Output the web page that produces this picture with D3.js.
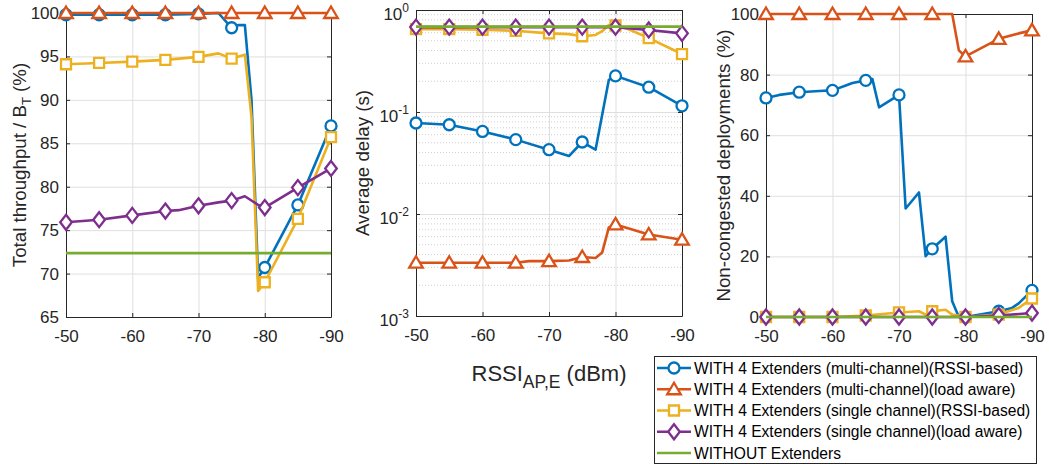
<!DOCTYPE html>
<html><head><meta charset="utf-8">
<script src="https://cdn.jsdelivr.net/npm/d3@7"></script>
<style>body{margin:0;background:#fff} svg{display:block;font-family:"Liberation Sans",Arial,Helvetica,sans-serif}</style>
</head><body><svg id="c" width="1049" height="465"></svg>
<script>
// ---------- data ----------
const seriesNames = [
  "WITH 4 Extenders (multi-channel)(RSSI-based)",
  "WITH 4 Extenders (multi-channel)(load aware)",
  "WITH 4 Extenders (single channel)(RSSI-based)",
  "WITH 4 Extenders (single channel)(load aware)",
  "WITHOUT Extenders"
];
const seriesColors = ["#0072BD","#D95319","#EDB120","#7E2F8E","#77AC30"];
const seriesMarkers = ["circle","triangle","square","diamond","none"];
const xTickValues = [-50,-60,-70,-80,-90];
const markerX = [-50,-55,-60,-65,-70,-75,-80,-85,-90];

// Panel 1: total throughput / B_T (%)
const tpTicks = [65,70,75,80,85,90,95,100];
const tpMcRssiX = [-50,-55,-60,-65,-70,-73,-75,-76,-77,-78,-79,-80,-85,-90];
const tpMcRssiY = [99.8,99.8,99.8,99.8,99.9,100,98.3,98.6,98.6,90,69.5,70.7,77.9,87.0];
const tpMcLoadX = [-50,-55,-60,-65,-70,-75,-80,-85,-90];
const tpMcLoadY = [100,100,100,100,100,100,100,100,100];
const tpScRssiX = [-50,-55,-60,-65,-70,-73,-75,-77,-78,-79,-80,-85,-90];
const tpScRssiY = [94.1,94.25,94.4,94.6,94.95,95.35,94.75,95.2,88,68.0,69.0,76.3,85.7];
const tpScLoadX = [-50,-55,-60,-65,-67,-70,-73,-75,-77,-79,-80,-85,-90];
const tpScLoadY = [75.9,76.2,76.7,77.2,77.3,77.8,78.2,78.4,78.9,77.9,77.6,79.9,82.1];
const tpNoneX = [-50,-90];
const tpNoneY = [72.35,72.35];

// Panel 2: average delay (s)
const delayTicks = [0.001,0.01,0.1,1];
const dlMcRssiX = [-50,-55,-60,-65,-70,-73,-75,-77,-79,-80,-85,-90];
const dlMcRssiY = [0.078,0.075,0.0645,0.0536,0.0427,0.037,0.0508,0.0427,0.207,0.226,0.175,0.115];
const dlMcLoadX = [-50,-55,-60,-65,-67,-70,-73,-75,-77,-78,-79,-80,-85,-90];
const dlMcLoadY = [0.00333,0.00333,0.00333,0.00333,0.00345,0.00345,0.0035,0.00379,0.0037,0.0042,0.0074,0.0079,0.0063,0.0056];
const dlScRssiX = [-50,-55,-60,-65,-70,-73,-75,-77,-78,-79,-80,-82,-85,-90];
const dlScRssiY = [0.65,0.65,0.64,0.625,0.59,0.58,0.553,0.569,0.62,0.713,0.705,0.647,0.53,0.37];
const dlScLoadX = [-50,-55,-60,-65,-70,-75,-80,-85,-90];
const dlScLoadY = [0.68,0.68,0.68,0.68,0.68,0.68,0.68,0.637,0.59];
const dlNoneX = [-50,-90];
const dlNoneY = [0.687,0.687];

// Panel 3: non-congested deployments (%)
const ncTicks = [0,20,40,60,80,100];
const ncMcRssiX = [-50,-52,-55,-58,-60,-62,-63,-65,-66,-67,-70,-71,-73,-74,-75,-77,-78,-79,-80,-85,-87,-88,-90];
const ncMcRssiY = [72.3,73.3,74.2,74.6,74.8,76.4,77.2,78.1,78.5,69.2,73.3,35.8,41.1,20.1,22.5,26.5,5.2,0,0,1.9,3.0,4.5,8.8];
const ncMcLoadX = [-50,-55,-60,-65,-70,-75,-78,-79,-80,-85,-88,-90];
const ncMcLoadY = [100,100,100,100,100,100,100,88,86,91.8,93.6,94.6];
const ncScRssiX = [-50,-55,-60,-65,-70,-73,-74,-75,-77,-78,-80,-85,-88,-90];
const ncScRssiY = [0,0,0,0.5,1.5,1.9,0.8,1.9,2.4,0.8,0,0.8,3.0,6.1];
const ncScLoadX = [-50,-55,-60,-65,-70,-75,-80,-85,-90];
const ncScLoadY = [0,0,0,0,0,0,0,0.5,1.3];
const ncNoneX = [-50,-90];
const ncNoneY = [0,0];

// ---------- layout ----------
const svg = d3.select("#c");
const axisColor = "#262626";
const gridColor = "#dfdfdf";
const tickFont = 17, labelFont = 18.7, legendFont = 15.6;

const panels = [
  {left:66, right:331, top:13, bottom:317, log:false, domain:[65,100], ticks:tpTicks,
   label:["Total throughput / B","T"," (%)"], labelX:26,
   data:[[tpMcRssiX,tpMcRssiY],[tpMcLoadX,tpMcLoadY],[tpScRssiX,tpScRssiY],[tpScLoadX,tpScLoadY],[tpNoneX,tpNoneY]]},
  {left:416, right:682, top:10, bottom:316, log:true, domain:[0.001,1], ticks:delayTicks,
   label:["Average delay (s)"], labelX:369,
   data:[[dlMcRssiX,dlMcRssiY],[dlMcLoadX,dlMcLoadY],[dlScRssiX,dlScRssiY],[dlScLoadX,dlScLoadY],[dlNoneX,dlNoneY]]},
  {left:766, right:1032, top:14, bottom:317, log:false, domain:[0,100], ticks:ncTicks,
   label:["Non-congested deployments (%)"], labelX:730,
   data:[[ncMcRssiX,ncMcRssiY],[ncMcLoadX,ncMcLoadY],[ncScRssiX,ncScRssiY],[ncScLoadX,ncScLoadY],[ncNoneX,ncNoneY]]}
];

function markerPath(kind){
  switch(kind){
    case "circle": return d3.arc()({innerRadius:0,outerRadius:5.5,startAngle:0,endAngle:2*Math.PI});
    case "triangle": return "M0,-6.5L6.8,5L-6.8,5Z";
    case "square": return "M-5,-5H5V5H-5Z";
    case "diamond": return "M0,-7.5L5.8,0L0,7.5L-5.8,0Z";
  }
  return null;
}

panels.forEach(p => {
  const x = d3.scaleLinear().domain([-50,-90]).range([p.left,p.right]);
  const y = (p.log ? d3.scaleLog() : d3.scaleLinear()).domain(p.domain).range([p.bottom,p.top]);
  const g = svg.append("g");
  const W = p.right - p.left, H = p.bottom - p.top;

  if (p.log) {
    const minor = [];
    for (let d = -3; d < 0; d++) for (let m = 2; m <= 9; m++) minor.push(m*Math.pow(10,d));
    g.append("g").selectAll("line").data(minor).join("line")
      .attr("x1",p.left).attr("x2",p.right).attr("y1",d=>y(d)).attr("y2",d=>y(d))
      .attr("stroke","#d0d0d0").attr("stroke-width",1).attr("stroke-dasharray","1,2");
  }
  g.append("g").attr("transform",`translate(0,${p.bottom})`)
    .call(d3.axisBottom(x).tickValues(xTickValues).tickSize(-H).tickFormat(""))
    .call(a=>{a.select(".domain").remove(); a.selectAll("line").attr("stroke",gridColor);});
  g.append("g").attr("transform",`translate(${p.left},0)`)
    .call(d3.axisLeft(y).tickValues(p.ticks).tickSize(-W).tickFormat(""))
    .call(a=>{a.select(".domain").remove(); a.selectAll("line").attr("stroke",gridColor);});

  const styleAxis = a => { a.select(".domain").attr("stroke",axisColor);
    a.selectAll(".tick line").attr("stroke",axisColor);
    a.selectAll("text").attr("fill",axisColor).attr("font-size",tickFont).attr("font-family","inherit"); };
  g.append("g").attr("transform",`translate(0,${p.bottom})`)
    .call(d3.axisBottom(x).tickValues(xTickValues).tickSizeInner(-4).tickSizeOuter(0).tickPadding(13).tickFormat(d=>d))
    .call(styleAxis);
  g.append("g").attr("transform",`translate(0,${p.top})`)
    .call(d3.axisTop(x).tickValues(xTickValues).tickSizeInner(-4).tickSizeOuter(0).tickFormat(""))
    .call(styleAxis);
  const yl = g.append("g").attr("transform",`translate(${p.left},0)`)
    .call(d3.axisLeft(y).tickValues(p.ticks).tickSizeInner(-4).tickSizeOuter(0).tickPadding(7).tickFormat(p.log?"":(d=>d)))
    .call(styleAxis);
  g.append("g").attr("transform",`translate(${p.right},0)`)
    .call(d3.axisRight(y).tickValues(p.ticks).tickSizeInner(-4).tickSizeOuter(0).tickFormat(""))
    .call(styleAxis);
  if (p.log) {
    yl.selectAll(".tick").each(function(d){
      const t = d3.select(this).select("text").attr("dy",null).attr("y",9).attr("x",-7);
      t.text(null);
      t.append("tspan").text("10");
      t.append("tspan").attr("dy",-8).attr("font-size",12).text(Math.round(Math.log10(d)));
    });
  }

  const lab = svg.append("text")
    .attr("transform",`translate(${p.labelX},${(p.top+p.bottom)/2}) rotate(-90)`)
    .attr("text-anchor","middle").attr("font-size",labelFont).attr("fill",axisColor);
  if (p.label.length === 1) lab.text(p.label[0]);
  else {
    lab.append("tspan").text(p.label[0]);
    lab.append("tspan").attr("dy",5).attr("font-size",13).text(p.label[1]);
    lab.append("tspan").attr("dy",-5).text(p.label[2]);
  }

  const line = d3.line().x(d=>x(d[0])).y(d=>y(d[1]));
  p.data.forEach((s,i) => {
    const pts = s[0].map((v,k)=>[v,s[1][k]]);
    g.append("path").attr("d",line(pts)).attr("fill","none")
      .attr("stroke",seriesColors[i]).attr("stroke-width",2.6).attr("stroke-linejoin","round");
    const mp = markerPath(seriesMarkers[i]);
    if (mp) {
      g.append("g").selectAll("path").data(pts.filter(d=>markerX.includes(d[0]))).join("path")
        .attr("transform",d=>`translate(${x(d[0])},${y(d[1])})`).attr("d",mp)
        .attr("fill","#fff").attr("stroke",seriesColors[i]).attr("stroke-width",2.3);
    }
  });
});

// x label
const xl = svg.append("text").attr("x",549).attr("y",381).attr("text-anchor","middle")
  .attr("font-size",22).attr("fill",axisColor);
xl.append("tspan").text("RSSI");
xl.append("tspan").attr("dy",7).attr("font-size",17.5).text("AP,E");
xl.append("tspan").attr("dy",-7).text(" (dBm)");

// legend
const lg = svg.append("g");
lg.append("rect").attr("x",654.5).attr("y",356.5).attr("width",382).attr("height",107)
  .attr("fill","#fff").attr("stroke",axisColor).attr("stroke-width",1);
const legY = d3.scaleLinear().domain([0,4]).range([368,453]);
seriesNames.forEach((n,i) => {
  const yy = legY(i);
  lg.append("line").attr("x1",657).attr("x2",691).attr("y1",yy).attr("y2",yy)
    .attr("stroke",seriesColors[i]).attr("stroke-width",2.6);
  const mp = markerPath(seriesMarkers[i]);
  if (mp) lg.append("path").attr("transform",`translate(674,${yy})`).attr("d",mp)
    .attr("fill","#fff").attr("stroke",seriesColors[i]).attr("stroke-width",2.3);
  lg.append("text").attr("x",694).attr("y",yy+5.5).attr("font-size",legendFont)
    .attr("fill","#000").text(n);
});
</script></body></html>
